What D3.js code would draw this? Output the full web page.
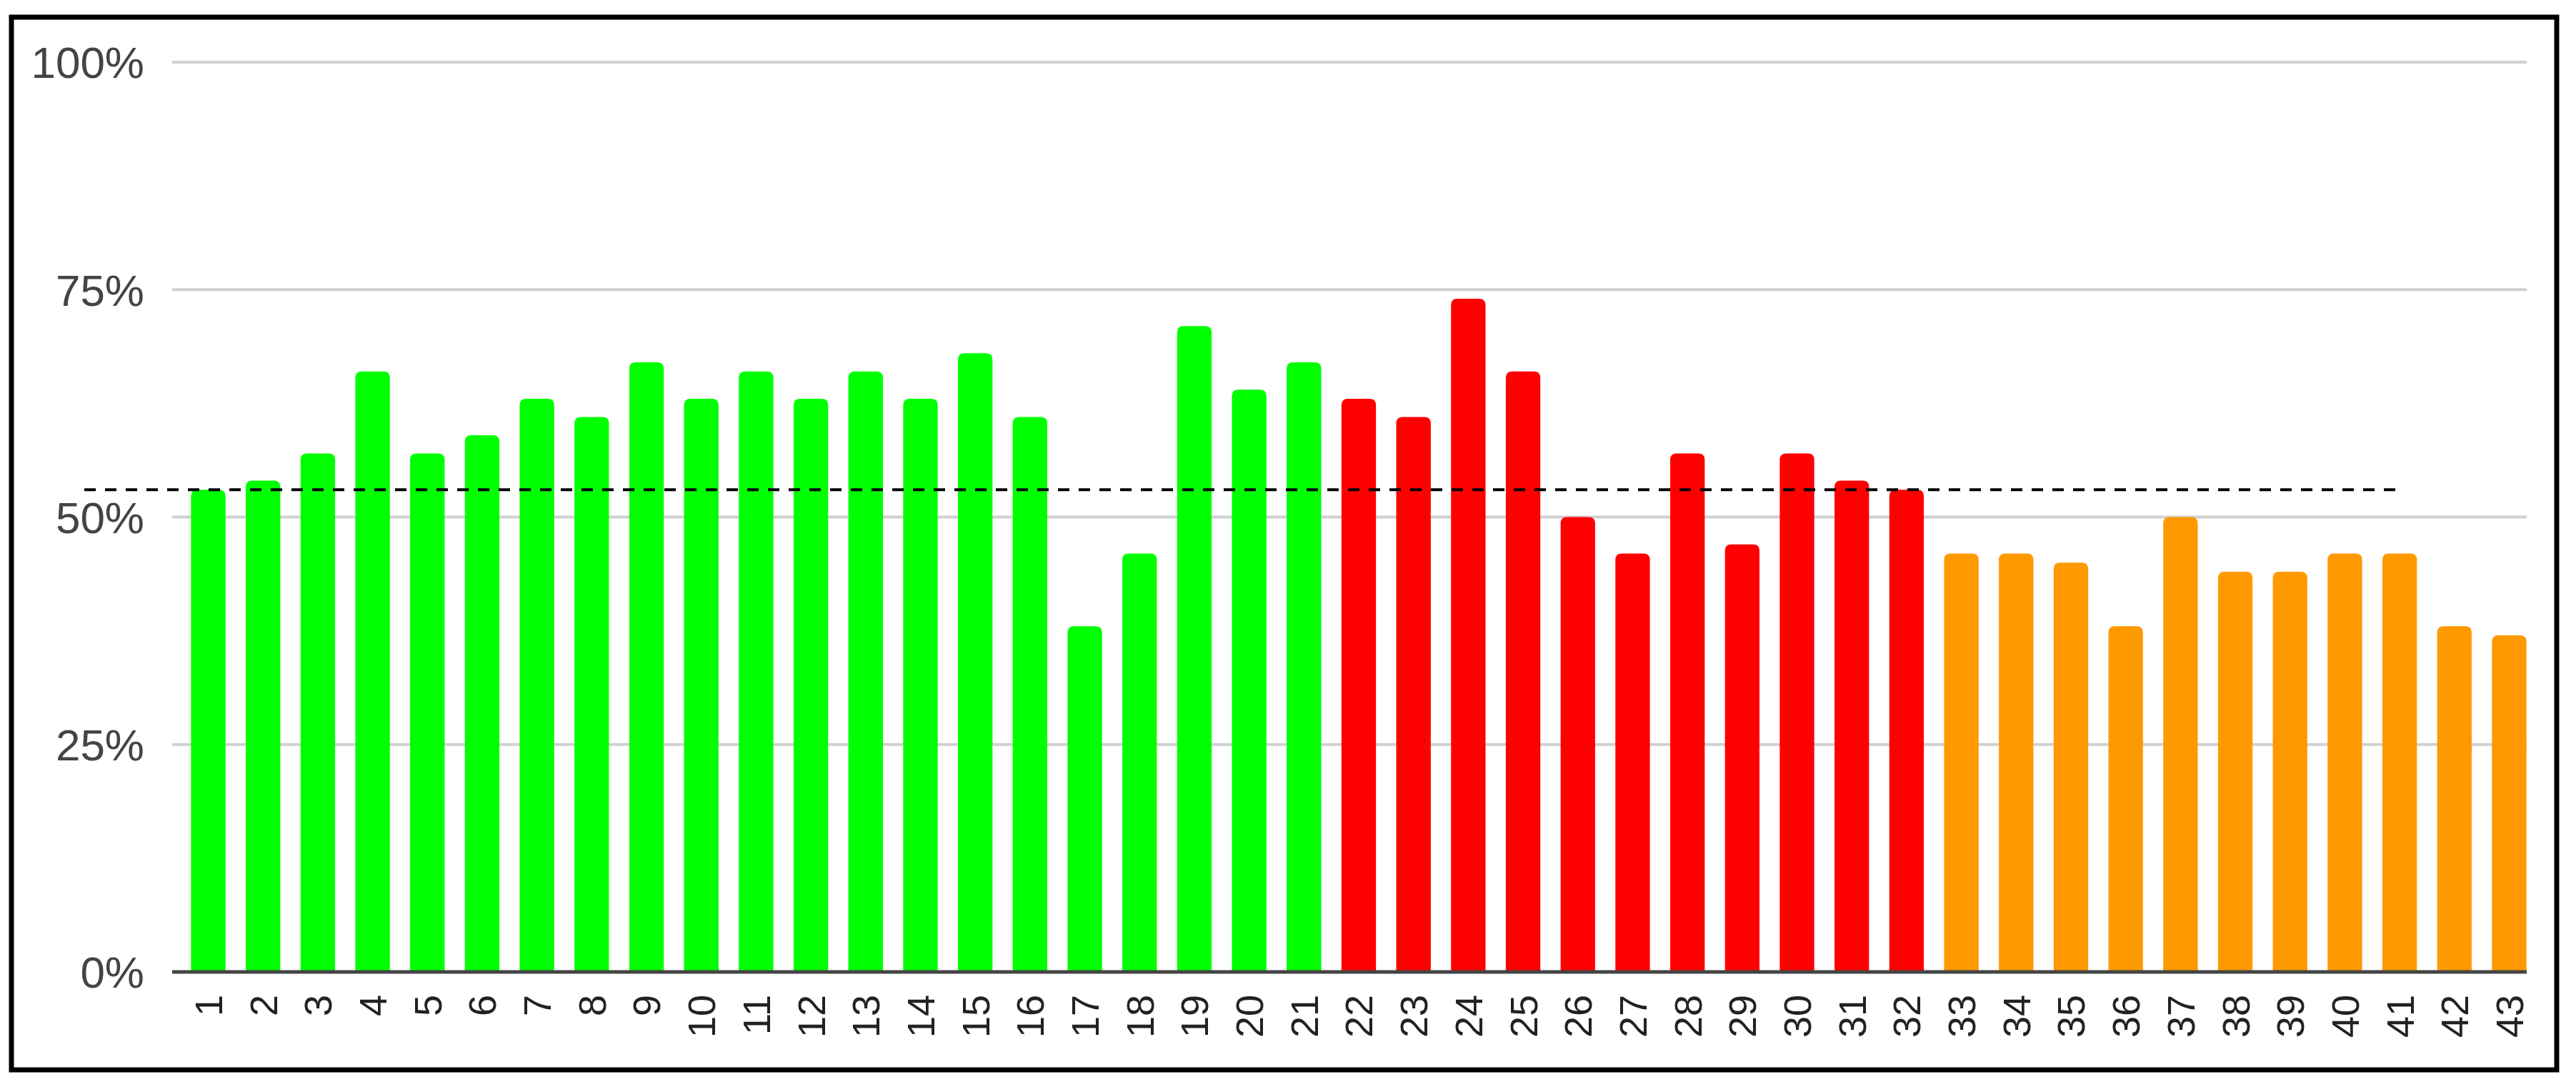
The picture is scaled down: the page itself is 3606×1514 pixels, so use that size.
<!DOCTYPE html>
<html>
<head>
<meta charset="utf-8">
<script src="https://cdn.jsdelivr.net/npm/d3@7"></script>
<style>
  body { margin: 0; background: #fff; }
  svg { display: block; font-family: Arial, "Liberation Sans", sans-serif; }
</style>
</head>
<body>
<svg id="chart" width="3606" height="1514"></svg>
<script>
// data
const categories = d3.range(1, 44).map(String);
const values = [53, 54, 57, 66, 57, 59, 63, 61, 67, 63, 66, 63, 66, 63, 68, 61, 38, 46, 71, 64, 67,
                63, 61, 74, 66, 50, 46, 57, 47, 57, 54, 53,
                46, 46, 45, 38, 50, 44, 44, 46, 46, 38, 37];
const groups = [
  { from: 1, to: 21, color: "#00ff00" },
  { from: 22, to: 32, color: "#ff0000" },
  { from: 33, to: 43, color: "#ff9900" }
];
const yTicks = [0, 25, 50, 75, 100];
const averageLine = 53;
const averageFrom = 0;   // category index where the dashed line starts
const averageTo = 40;    // category index where it ends

const svg = d3.select("#chart");

// outer frame
svg.append("rect")
  .attr("x", 16).attr("y", 24)
  .attr("width", 3563).attr("height", 1473)
  .attr("fill", "#fff").attr("stroke", "#000").attr("stroke-width", 7);

const x = d3.scaleBand()
  .domain(categories)
  .range([252, 3552])
  .paddingInner(0.37)
  .paddingOuter(0.2);

const y = d3.scaleLinear()
  .domain([0, 100])
  .range([1360, 87]);

// gridlines + y labels
const grid = svg.append("g");
grid.selectAll("line")
  .data(yTicks.filter(d => d > 0))
  .join("line")
  .attr("x1", 241).attr("x2", 3537)
  .attr("y1", d => y(d)).attr("y2", d => y(d))
  .attr("stroke", "#d0d0d0").attr("stroke-width", 4);

grid.selectAll("text")
  .data(yTicks)
  .join("text")
  .attr("x", 202)
  .attr("y", d => y(d))
  .attr("dy", "0.36em")
  .attr("text-anchor", "end")
  .attr("font-size", 62)
  .attr("fill", "#444")
  .text(d => d + "%");

function colorFor(i) {
  const n = i + 1;
  return groups.find(g => n >= g.from && n <= g.to).color;
}

// bars with rounded tops
const r = 9;
svg.append("g").selectAll("path")
  .data(values)
  .join("path")
  .attr("fill", (d, i) => colorFor(i))
  .attr("d", (d, i) => {
    const x0 = x(categories[i]), w = x.bandwidth();
    const top = y(d), base = y(0);
    return `M${x0},${base}V${top + r}Q${x0},${top} ${x0 + r},${top}` +
           `H${x0 + w - r}Q${x0 + w},${top} ${x0 + w},${top + r}V${base}Z`;
  });

// x axis baseline
svg.append("line")
  .attr("x1", 241).attr("x2", 3537)
  .attr("y1", y(0)).attr("y2", y(0))
  .attr("stroke", "#444").attr("stroke-width", 5);

// rotated category labels
svg.append("g").selectAll("text")
  .data(categories)
  .join("text")
  .attr("transform", d => `translate(${x(d) + x.bandwidth() / 2},1392) rotate(-90)`)
  .attr("text-anchor", "end")
  .attr("dy", "0.36em")
  .attr("font-size", 54)
  .attr("fill", "#222")
  .text(d => d);

// dashed average line
svg.append("line")
  .attr("x1", 118)
  .attr("x2", x(categories[averageTo]) + x.bandwidth() / 2)
  .attr("y1", y(averageLine)).attr("y2", y(averageLine))
  .attr("stroke", "#000").attr("stroke-width", 4)
  .attr("stroke-dasharray", "16,13");
</script>
</body>
</html>
